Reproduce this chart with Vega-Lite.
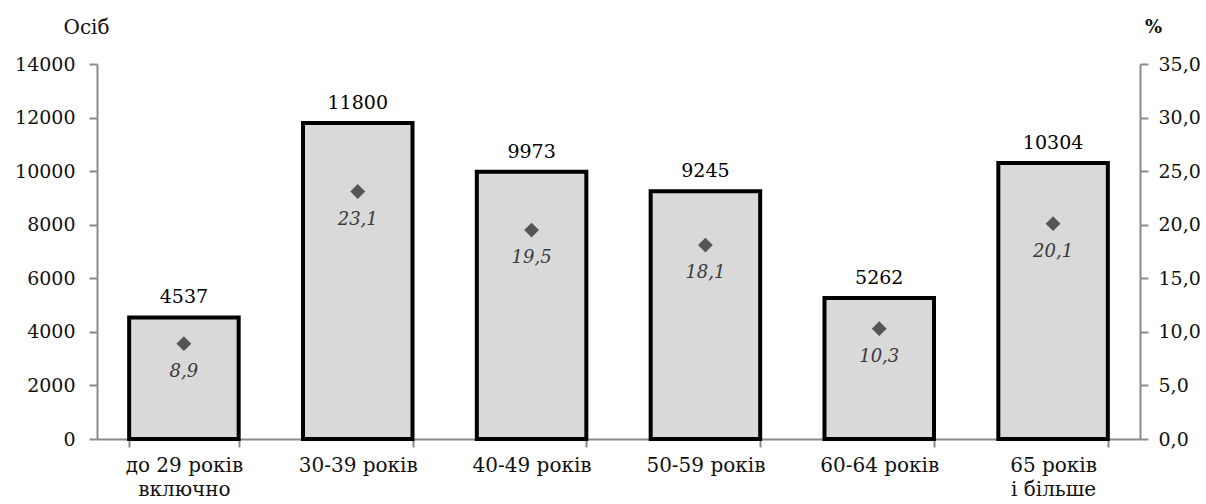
{
  "$schema": "https://vega.github.io/schema/vega-lite/v6.json",
  "width": 1043,
  "height": 375,
  "autosize": {"type": "none"},
  "padding": {"left": 97, "top": 64, "right": 66, "bottom": 65},
  "background": "white",
  "config": {
    "view": {"stroke": null},
    "locale": {"number": {"decimal": ",", "thousands": "", "grouping": [3], "currency": ["", ""]}},
    "font": "DejaVu Serif",
    "axis": {"labelFont": "DejaVu Serif", "titleFont": "DejaVu Serif", "labelColor": "#111", "titleColor": "#111", "domainColor": "#8a8a8a", "tickColor": "#8a8a8a", "domainWidth": 2, "tickWidth": 2, "grid": false, "labelOverlap": false}
  },
  "data": {"values": [
    {"group": "до 29 років включно", "persons": 4537, "pct": 8.9},
    {"group": "30-39 років", "persons": 11800, "pct": 23.1},
    {"group": "40-49 років", "persons": 9973, "pct": 19.5},
    {"group": "50-59 років", "persons": 9245, "pct": 18.1},
    {"group": "60-64 років", "persons": 5262, "pct": 10.3},
    {"group": "65 років і більше", "persons": 10304, "pct": 20.1}
  ]},
  "encoding": {
    "x": {"field": "group", "type": "nominal", "sort": null,
      "scale": {"paddingInner": 0.37, "paddingOuter": 0.185},
      "axis": {"title": null, "labelAngle": 0, "labelFontSize": 20, "labelPadding": 8, "labelLineHeight": 24, "tickBand": "extent", "tickSize": 8,
        "labelExpr": "datum.value == 'до 29 років включно' ? ['до 29 років', 'включно'] : datum.value == '65 років і більше' ? ['65 років', 'і більше'] : datum.value"}}
  },
  "layer": [
    {
      "layer": [
        {"mark": {"type": "bar", "fill": "#d9d9d9", "stroke": "black", "strokeWidth": 4},
         "encoding": {"y": {"field": "persons", "type": "quantitative", "scale": {"domain": [0, 14000]},
           "axis": {"title": "Осіб", "titleAngle": 0, "titleX": -11, "titleY": -37, "titleAlign": "center", "titleBaseline": "middle", "titleFontSize": 20, "titleFontWeight": "normal", "values": [0,2000,4000,6000,8000,10000,12000,14000], "labelFontSize": 19, "labelPadding": 14, "tickSize": 8, "format": "d"}}}},
        {"mark": {"type": "text", "baseline": "bottom", "dy": -10, "fontSize": 19, "fontWeight": "normal", "font": "DejaVu Serif", "color": "#000"},
         "encoding": {"y": {"field": "persons", "type": "quantitative"}, "text": {"field": "persons", "type": "quantitative", "format": "d"}}}
      ]
    },
    {
      "layer": [
        {"mark": {"type": "point", "shape": "diamond", "filled": true, "size": 220, "color": "#555555", "opacity": 1},
         "encoding": {"y": {"field": "pct", "type": "quantitative", "scale": {"domain": [0, 35]},
           "axis": {"orient": "right", "title": "%", "titleAngle": 0, "titleX": 13, "titleY": -37, "titleAlign": "center", "titleBaseline": "middle", "titleFontSize": 18, "titleFontWeight": "bold", "values": [0,5,10,15,20,25,30,35], "format": ".1f", "labelFontSize": 19, "labelPadding": 10, "tickSize": 8}}}},
        {"mark": {"type": "text", "baseline": "middle", "dy": 28, "fontSize": 18, "fontStyle": "italic", "font": "DejaVu Serif", "color": "#3a3a3a"},
         "encoding": {"y": {"field": "pct", "type": "quantitative"}, "text": {"field": "pct", "type": "quantitative", "format": ".1f"}}}
      ]
    }
  ],
  "resolve": {"scale": {"y": "independent"}}
}
